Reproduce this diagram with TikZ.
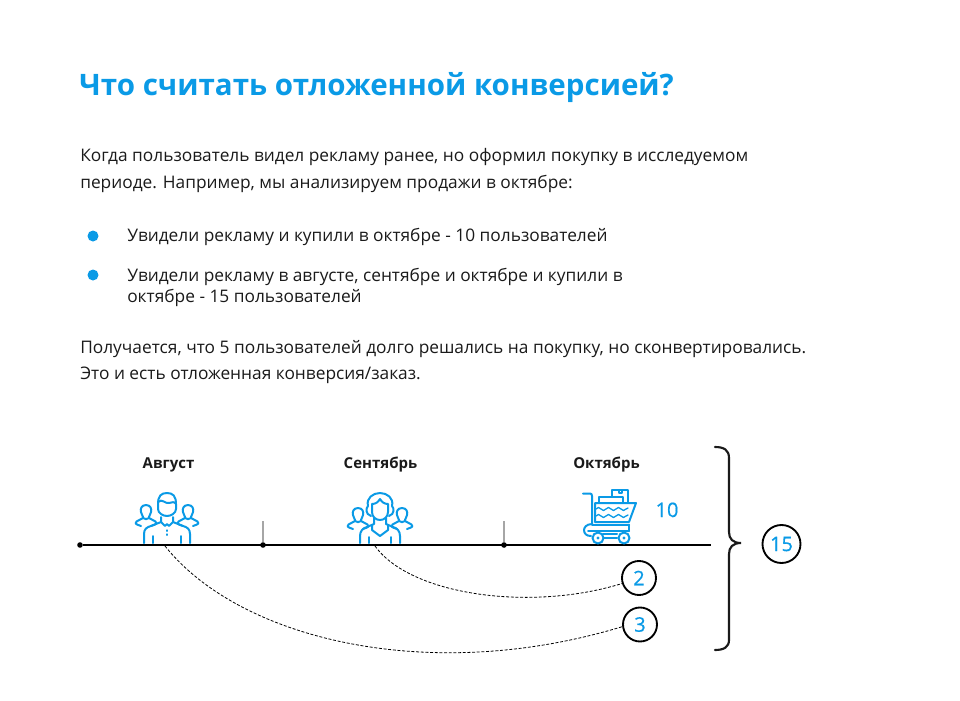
\documentclass[tikz,border=0pt]{standalone}
\usepackage{fontspec}
\setmainfont{Open Sans}
\newfontfamily\digitfont[FakeBold=0.5]{Open Sans}
\definecolor{brand}{HTML}{0A9AE6}
\definecolor{ink}{HTML}{1A1A1A}
\tikzset{
 titletext/.style={anchor=base west,inner sep=0,text=brand,font=\fontsize{22.15pt}{28pt}\selectfont\bfseries},
 bodytext/.style={anchor=base west,inner sep=0,text=ink,font=\fontsize{12.98pt}{15pt}\selectfont},
 monthtext/.style={anchor=base,inner sep=0,text=ink,font=\fontsize{11.25pt}{13pt}\selectfont\bfseries},
 bullet/.style={circle,fill=brand,minimum size=8.25pt,inner sep=0},
 tickdot/.style={circle,fill=black,minimum size=4.2pt,inner sep=0},
 count/.style={circle,draw=black,line width=1.4pt,minimum size=28.5pt,inner sep=0,text=brand,font=\fontsize{15pt}{16pt}\selectfont\digitfont},
 icon/.style={draw=brand,line width=1.5pt,line join=round,line cap=round},
 conn/.style={draw=black,line width=0.6pt,dash pattern=on 2.2pt off 1.3pt},
}
\newcommand{\sideperson}[2]{%
 \draw[icon,shift={(#1,#2)}] (0,-7) .. controls (-4.5,-7) and (-6,-3) .. (-5,0) .. controls (-4.5,2) and (-3.5,3.5) .. (-3,5) -- (-3,6) -- (-9.5,9.5) .. controls (-11,10.5) and (-10.5,12.5) .. (-9,12.5) -- (-5,14)
 (0,-7) .. controls (4.5,-7) and (6,-3) .. (5,0) .. controls (4.5,2) and (3.5,3.5) .. (3,5) -- (3,6) -- (9.5,9.5) .. controls (11,10.5) and (10.5,12.5) .. (9,12.5) -- (5,14)
 (-3,6) .. controls (-1,7.5) and (1,7.5) .. (3,6);}
\begin{document}
\begin{tikzpicture}[x=0.75pt,y=-0.75pt]
\useasboundingbox (0,0) rectangle (960,700);
\node[titletext] (title) at (79,95) {Что считать отложенной конверсией?};
\node[bodytext] (l1) at (80,161) {Когда пользователь видел рекламу ранее, но оформил покупку в исследуемом};
\node[bodytext] (l2) at (80,188) {периоде. Например, мы анализируем продажи в октябре:};
\node[bullet] (b1) at (93,236) {};
\node[bodytext] (l3) at (127,241) {Увидели рекламу и купили в октябре - 10 пользователей};
\node[bullet] (b2) at (93,275) {};
\node[bodytext] (l4) at (127,281) {Увидели рекламу в августе, сентябре и октябре и купили в};
\node[bodytext] (l5) at (127,302) {октябре - 15 пользователей};
\node[bodytext] (l6) at (80,353) {Получается, что 5 пользователей долго решались на покупку, но сконвертировались.};
\node[bodytext] (l7) at (80,379) {Это и есть отложенная конверсия/заказ.};
\node[monthtext] (m1) at (168.5,468) {Август};
\node[monthtext] (m2) at (380.5,468) {Сентябрь};
\node[monthtext] (m3) at (606.5,468) {Октябрь};
% timeline
\coordinate (tlend) at (711,545);
\node[tickdot] (d0) at (80,545) {};
\node[tickdot] (d1) at (263,545) {};
\node[tickdot] (d2) at (504,545) {};
\coordinate (t1) at (263,521);
\coordinate (t2) at (504,521);
\draw[gray!70,line width=0.9pt] (t1) -- (d1);
\draw[gray!70,line width=0.9pt] (t2) -- (d2);
\draw[black,line width=1.5pt] (d0) -- (tlend);
% man
\begin{scope}[shift={(167,544)}]
\draw[icon] (-9,-40) .. controls (-9,-48) and (-6,-51) .. (0,-51) .. controls (6,-51) and (9,-48) .. (9,-40) -- (9,-35) .. controls (9,-31) and (4,-28) .. (0,-28) .. controls (-4,-28) and (-9,-31) .. (-9,-35) -- cycle;
\draw[icon] (-9,-42) .. controls (-5,-46) and (-2,-40) .. (2,-41) .. controls (5,-41.5) and (7,-43) .. (9,-40);
\draw[icon] (-23,-1) -- (-23,-10) .. controls (-23,-15) and (-20,-17) .. (-16,-18) -- (-6,-22) -- (-6,-27);
\draw[icon] (23,-1) -- (23,-10) .. controls (23,-15) and (20,-17) .. (16,-18) -- (6,-22) -- (6,-27);
\draw[icon] (-6,-22) -- (-2,-18) -- (0,-20) -- (2,-18) -- (6,-22);
\draw[icon] (-14,-1) -- (-14,-8) (14,-1) -- (14,-8);
\fill[brand] (-0.9,-14.5) rectangle (0.9,-12.5) (-0.9,-10.5) rectangle (0.9,-8.5);
\end{scope}
\sideperson{146}{512}
\sideperson{188}{512}
% woman
\begin{scope}[shift={(380,544)}]
\draw[icon] (-9,-28) .. controls (-15,-30) and (-14,-36) .. (-12,-38) .. controls (-14,-46) and (-7,-51) .. (0,-51) .. controls (7,-51) and (14,-46) .. (12,-38) .. controls (14,-36) and (15,-30) .. (9,-28);
\draw[icon] (-8,-40) .. controls (-4,-40) and (-2,-42) .. (0,-45) .. controls (2,-42) and (4,-40) .. (8,-40) -- (8,-32) .. controls (8,-27) and (4,-24) .. (0,-24) .. controls (-4,-24) and (-8,-27) .. (-8,-32) -- cycle;
\draw[icon] (-20,-1) -- (-20,-8) .. controls (-20,-13) and (-17,-16) .. (-13,-17) -- (-6,-20) -- (-6,-26);
\draw[icon] (20,-1) -- (20,-8) .. controls (20,-13) and (17,-16) .. (13,-17) -- (6,-20) -- (6,-26);
\draw[icon] (-8,-19) -- (-8,-14) -- (0,-8) -- (8,-14) -- (8,-19);
\draw[icon] (-11,-1) -- (-11,-7) (11,-1) -- (11,-7);
\end{scope}
\sideperson{358}{515}
\sideperson{402}{515}
% cart
\begin{scope}[shift={(570,480)}]
\draw[icon] (13,13.5) -- (20,13.5) .. controls (21.5,13.5) and (22,14.5) .. (22,16) -- (22,44);
\draw[icon] (25,23) -- (66,23) -- (59,42) -- (25,42) -- cycle;
\draw[icon] (29,22) -- (29,16.5) -- (53,16.5) -- (53,22);
\draw[icon] (42,16) -- (42,10) -- (58,10) -- (58,22);
\draw[icon] (49,10) -- (49,13) -- (52,13) -- (52,10);
\draw[icon,line width=1pt] (26,29) .. controls (28,27) and (29,27) .. (31,29) .. controls (33,31) and (34,31) .. (36,29) .. controls (38,27) and (39,27) .. (41,29) .. controls (43,31) and (44,31) .. (46,29) .. controls (48,27) and (49,27) .. (51,29) .. controls (53,31) and (54,31) .. (56,29) -- (58,28);
\draw[icon,line width=1pt] (26,36) .. controls (28,34) and (29,34) .. (31,36) .. controls (33,38) and (34,38) .. (36,36) .. controls (38,34) and (39,34) .. (41,36) .. controls (43,38) and (44,38) .. (46,36) .. controls (48,34) and (49,34) .. (51,36) .. controls (53,38) and (54,38) .. (56,36) -- (58,35);
\draw[icon] (22,44) .. controls (16,44) and (14,48) .. (14,50) .. controls (14,54) and (17,56) .. (21,56);
\draw[icon] (22,44.5) -- (59,44.5) (18,51) -- (59,51);
\draw[icon] (59,44.5) -- (59,51);
\draw[icon] (33,58) -- (47,58) (33,54) -- (47,54);
\draw[icon,fill=white] (28,58) circle (5.5);
\draw[icon,fill=white] (54,58) circle (5.5);
\fill[brand] (28,58) circle (1.6) (54,58) circle (1.6);
\end{scope}
\node[anchor=base,inner sep=0,text=brand,font=\fontsize{15pt}{16pt}\selectfont\digitfont] (n10) at (667,517) {10};
% brace
\coordinate (bt) at (715,447);
\coordinate (bb) at (715,650);
\coordinate (bm) at (741,543);
\draw[ink,line width=1.6pt,line cap=round] (bt) .. controls (724,447) and (729,450) .. (729,458) -- (729,532) .. controls (729,539) and (733,543) .. (bm) .. controls (733,543) and (729,547) .. (729,554) -- (729,640) .. controls (729,647) and (724,650) .. (bb);
\node[count] (c15) at (781.5,544) {15};
\node[count,minimum size=25.5pt] (c2) at (639,578) {2};
\node[count,minimum size=25.5pt] (c3) at (640,624.5) {3};
% dashed
\coordinate (s2) at (375,546);
\coordinate (s3) at (165,546);
\draw[conn] (s2) .. controls (410,595) and (530,612) .. (c2.198);
\draw[conn] (s3) .. controls (240,640) and (430,685) .. (c3.187);
\end{tikzpicture}
\end{document}
